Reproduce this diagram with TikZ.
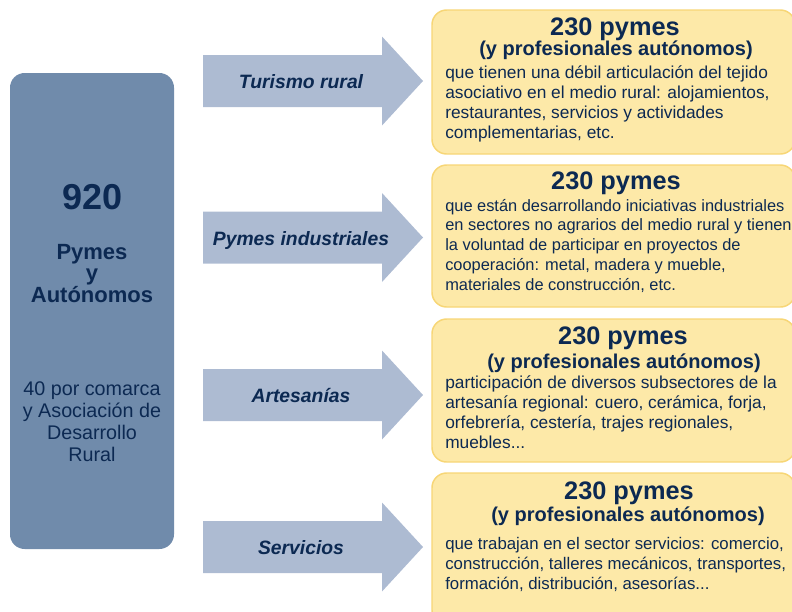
\documentclass[tikz,border=0pt]{standalone}
\usepackage{fontspec}
\setmainfont{Liberation Sans}
\definecolor{navy}{RGB}{12,41,82}
\definecolor{steel}{RGB}{112,139,171}
\definecolor{pale}{RGB}{173,187,210}
\definecolor{cream}{RGB}{253,233,168}
\definecolor{gold}{RGB}{247,214,118}
\begin{document}
\begin{tikzpicture}[x=0.75pt,y=-0.75pt,
    every node/.style={text=navy,inner sep=0pt},
    bigbox/.style={fill=steel,rounded corners=11pt},
    sectorarrow/.style={fill=pale},
    sector/.style={anchor=base,font=\fontsize{14.5}{17}\selectfont\bfseries\itshape},
    infobox/.style={fill=cream,draw=gold,line width=1.1pt,rounded corners=11pt},
    title/.style={anchor=base,font=\fontsize{19}{22}\selectfont\bfseries},
    subtitle/.style={anchor=base,font=\fontsize{15}{18}\selectfont\bfseries},
    body/.style={anchor=base west,align=left,font=\fontsize{13}{14.8}\selectfont}]
  \useasboundingbox (0,0) rectangle (792,611);

  % left block
  \fill[bigbox] (10,73) rectangle (174,549);
  \node[font=\fontsize{27}{30}\selectfont\bfseries] (total) at (92.5,197) {920};
  \node[align=center,font=\fontsize{16.5}{16.3}\selectfont\bfseries] (who) at (92,273.5) {Pymes\\y\\Autónomos};
  \node[align=center,font=\fontsize{14.8}{16.4}\selectfont] (where) at (92,421.7) {40 por comarca\\y Asociación de\\Desarrollo\\Rural};

  % arrows
  \foreach \i/\yc/\lbl in {1/81/Turismo rural, 2/237.5/Pymes industriales, 3/395/Artesanías, 4/547/Servicios}{
    \fill[sectorarrow] (203,\yc-26) -- (382,\yc-26) -- (382,\yc-44.5) -- (423,\yc)
      -- (382,\yc+44.5) -- (382,\yc+26) -- (203,\yc+26) -- cycle;
    \node[sector] (sec\i) at (301,\yc+7.5) {\lbl};
  }

  % boxes on the right (body nodes sit on their last baseline)
  \draw[infobox] (432,10) rectangle (795,154);
  \node[title] (t1) at (615,35) {230 pymes};
  \node[subtitle] (s1) at (616,55) {(y profesionales autónomos)};
  \node[body] (b1) at (445,138) {que tienen una débil articulación del tejido\\asociativo en el medio rural: alojamientos,\\restaurantes, servicios y actividades\\complementarias, etc.};

  \draw[infobox] (432,165) rectangle (795,307);
  \node[title] (t2) at (616,189.3) {230 pymes};
  \node[body,font=\fontsize{12.3}{14.8}\selectfont] (b2) at (445,290) {que están desarrollando iniciativas industriales\\en sectores no agrarios del medio rural y tienen\\la voluntad de participar en proyectos de\\cooperación: metal, madera y mueble,\\materiales de construcción, etc.};

  \draw[infobox] (432,319) rectangle (795,462);
  \node[title] (t3) at (623,344.3) {230 pymes};
  \node[subtitle] (s3) at (624,368.3) {(y profesionales autónomos)};
  \node[body] (b3) at (445,448) {participación de diversos subsectores de la\\artesanía regional: cuero, cerámica, forja,\\orfebrería, cestería, trajes regionales,\\muebles...};

  \draw[infobox] (432,473) rectangle (795,625);
  \node[title] (t4) at (629,499) {230 pymes};
  \node[subtitle] (s4) at (628,521.7) {(y profesionales autónomos)};
  \node[body,font=\fontsize{12.6}{14.8}\selectfont] (b4) at (445,589) {que trabajan en el sector servicios: comercio,\\construcción, talleres mecánicos, transportes,\\formación, distribución, asesorías...};
\end{tikzpicture}
\end{document}
